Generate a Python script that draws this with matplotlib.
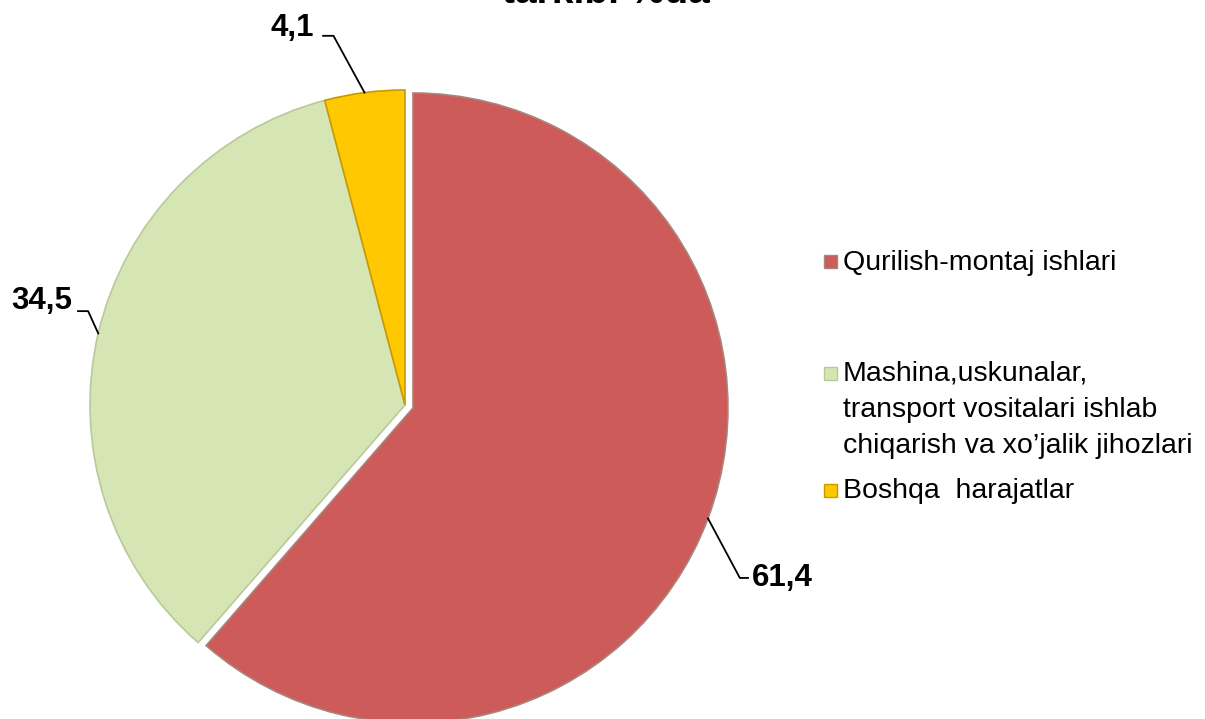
import numpy as np
import matplotlib
matplotlib.use("Agg")
import matplotlib.pyplot as plt
from matplotlib.patches import Rectangle

plt.rcParams['font.family'] = ['Liberation Sans', 'DejaVu Sans']

categories = ["Qurilish-montaj ishlari",
              "Mashina,uskunalar,\ntransport vositalari ishlab\nchiqarish va xo\u2019jalik jihozlari",
              "Boshqa  harajatlar"]
values = [61.4, 34.5, 4.1]
value_labels = ["61,4", "34,5", "4,1"]
colors = ["#CD5B5A", "#D5E5B3", "#FFC800"]
edge_colors = ["#A8847A", "#B9C99A", "#C89A00"]
title = "tarkibi %da"

W, H = 1205, 719
fig = plt.figure(figsize=(W / 100, H / 100), dpi=100)

cx, cy, R = 405, 405, 315
ax = fig.add_axes([(cx - R) / W, (H - cy - R) / H, 2 * R / W, 2 * R / H])

explode = [0.027, 0, 0]
wedges, _ = ax.pie(values, colors=colors, startangle=90, counterclock=False,
                   explode=explode, radius=1,
                   wedgeprops=dict(linewidth=1.2))
for w, ec in zip(wedges, edge_colors):
    w.set_edgecolor(ec)
    w.set_clip_on(False)
ax.set_xlim(-1, 1)
ax.set_ylim(-1, 1)
ax.axis('off')

# label layout (data coords): elbow point, end of horizontal tick, text anchor
label_layout = [
    dict(elbow=(1.063, -0.549), end=(1.089, -0.549), text=(1.10, -0.549), ha='left'),
    dict(elbow=(-1.006, 0.298), end=(-1.038, 0.298), text=(-1.055, 0.33), ha='right'),
    dict(elbow=(-0.227, 1.172), end=(-0.26, 1.172), text=(-0.29, 1.197), ha='right'),
]
for w, lab, lay, ex in zip(wedges, value_labels, label_layout, explode):
    mid = np.deg2rad((w.theta1 + w.theta2) / 2)
    px = (1 + ex) * np.cos(mid)
    py = (1 + ex) * np.sin(mid)
    ex_, ey_ = lay['elbow']
    fx, fy = lay['end']
    ax.plot([px, ex_, fx], [py, ey_, fy], color='black', lw=1.3, clip_on=False)
    ax.text(lay['text'][0], lay['text'][1], lab, ha=lay['ha'], va='center',
            fontsize=22.5, fontweight='bold', clip_on=False)

fig.text(606 / W, 1 - 3 / H, title, ha='center', va='baseline',
         fontsize=28, fontweight='bold')

# legend (marker aligned with first text line)
leg_y = [262, 373, 490]
for c, ec, lab, y in zip(colors, edge_colors, categories, leg_y):
    fig.patches.append(Rectangle((824 / W, 1 - (y + 6.5) / H), 13 / W, 13 / H,
                                 facecolor=c, edgecolor=ec, lw=1,
                                 transform=fig.transFigure, figure=fig))
    fig.text(843 / W, 1 - (y - 12) / H, lab, ha='left', va='top', fontsize=20.5,
             linespacing=1.5)

fig.savefig("out.png", dpi=100)
